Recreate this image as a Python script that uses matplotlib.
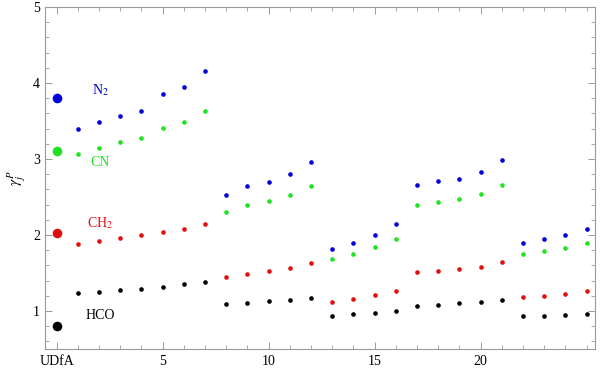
import matplotlib
matplotlib.use("Agg")
import matplotlib.pyplot as plt
import numpy as np

plt.rcParams['font.family'] = ['Liberation Serif', 'DejaVu Serif']
plt.rcParams['mathtext.fontset'] = 'stix'

# index 0 = UDfA, 1..25 = model runs
runs = np.arange(1, 26)

n2 = [3.39, 3.49, 3.57, 3.63, 3.85, 3.95, 4.16,
      2.53, 2.64, 2.70, 2.80, 2.96,
      1.81, 1.89, 2.00, 2.15,
      2.66, 2.71, 2.74, 2.83, 2.98,
      1.90, 1.95, 2.00, 2.08]
cn = [3.07, 3.15, 3.22, 3.27, 3.41, 3.49, 3.63,
      2.30, 2.40, 2.45, 2.52, 2.64,
      1.68, 1.75, 1.84, 1.95,
      2.40, 2.44, 2.47, 2.54, 2.66,
      1.75, 1.79, 1.83, 1.90]
ch2 = [1.875, 1.92, 1.96, 2.00, 2.04, 2.085, 2.14,
       1.45, 1.49, 1.525, 1.57, 1.63,
       1.12, 1.16, 1.205, 1.26,
       1.51, 1.525, 1.55, 1.58, 1.64,
       1.18, 1.20, 1.23, 1.26]
hco = [1.24, 1.25, 1.27, 1.29, 1.32, 1.35, 1.38,
       1.09, 1.11, 1.13, 1.15, 1.17,
       0.94, 0.96, 0.98, 1.00,
       1.07, 1.08, 1.10, 1.12, 1.15,
       0.93, 0.935, 0.95, 0.965]

udfa = {"N2": 3.8, "CN": 3.1, "CH2": 2.02, "HCO": 0.8}

series = [
    ("N2", n2, "#0000dd", r"N$_2$", 3.91),
    ("CN", cn, "#22e022", "CN", 2.96),
    ("CH2", ch2, "#e01010", r"CH$_2$", 2.15),
    ("HCO", hco, "black", "HCO", 0.94),
]

fig = plt.figure(figsize=(6, 3.68), dpi=100)
ax = fig.add_axes([0.075, 0.0516, 0.9167, 0.9296])

for key, vals, col, lab, ly in series:
    ax.scatter(runs, vals, s=11, color=col, zorder=3, linewidths=0)
    ax.scatter([0], [udfa[key]], s=48, color=col, zorder=3, linewidths=0)
    ax.text(2.05, ly, lab, color=col, fontsize=10, ha='center', va='center')

ax.set_xlim(-0.55, 25.4)
ax.set_ylim(0.5, 5)
ax.set_xticks([0, 5, 10, 15, 20])
ax.set_xticklabels(["UDfA", "5", "10", "15", "20"])
ax.set_xticks(np.arange(0, 26), minor=True)
ax.set_yticks([1, 2, 3, 4, 5])
ax.set_yticks(np.arange(0.6, 5.0, 0.2), minor=True)

for sp in ax.spines.values():
    sp.set_color('#999999')
    sp.set_linewidth(0.8)
ax.tick_params(which='both', direction='in', top=True, right=True,
               color='#999999', labelsize=10, labelcolor='black')
ax.tick_params(which='major', length=5, width=0.7)
ax.tick_params(which='minor', length=3, width=0.6)
ax.tick_params(axis='x', pad=4)

ax.set_ylabel(r"$\gamma_j^P$", fontsize=11, labelpad=4)

fig.savefig("out.png", dpi=100)
